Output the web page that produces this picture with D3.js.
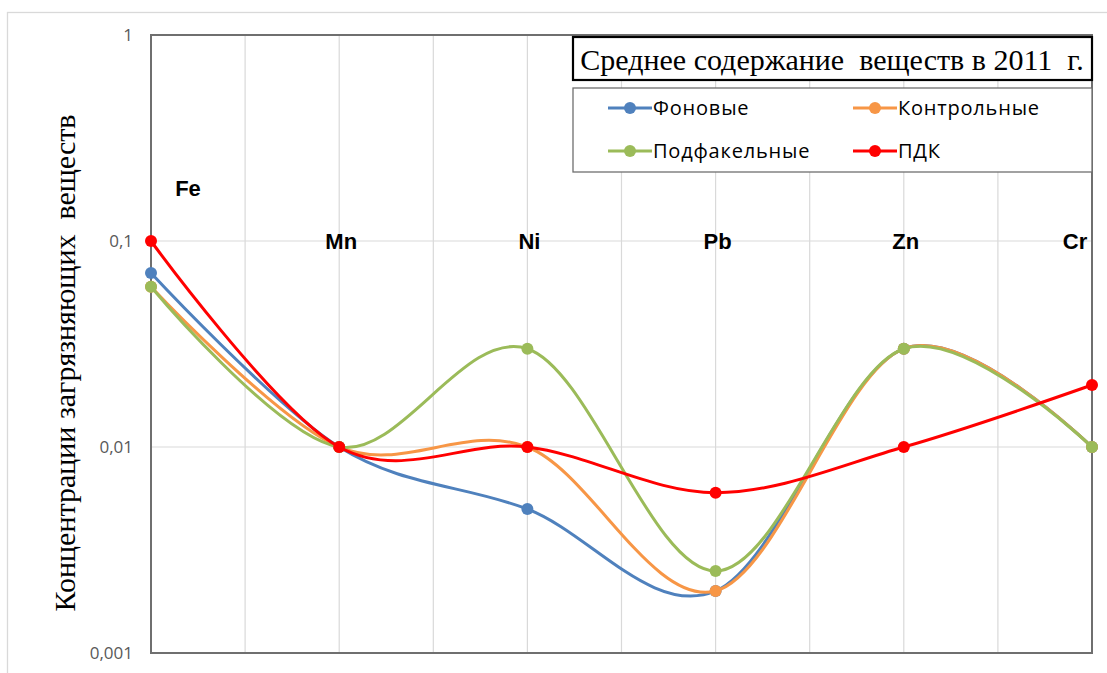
<!DOCTYPE html>
<html>
<head>
<meta charset="utf-8">
<script src="https://cdn.jsdelivr.net/npm/d3@7"></script>
<style>
  body { margin: 0; background: #fff; }
  svg { display: block; }
  text { white-space: pre; }
</style>
</head>
<body>
<svg id="chart" width="1107" height="673"></svg>
<script>
// Elements on the x axis
const categories = ["Fe", "Mn", "Ni", "Pb", "Zn", "Cr"];

// Mean concentrations by site type
const seriesNames = ["Фоновые", "Контрольные", "Подфакельные", "ПДК"];
const fonovye      = [0.07, 0.01, 0.005, 0.002, 0.03, 0.01];
const kontrolnye   = [0.06, 0.01, 0.01,  0.002, 0.03, 0.01];
const podfakelnye  = [0.06, 0.01, 0.03,  0.0025, 0.03, 0.01];
const pdk          = [0.1,  0.01, 0.01,  0.006, 0.01, 0.02];
const seriesValues = [fonovye, kontrolnye, podfakelnye, pdk];
const seriesColors = ["#4F81BD", "#F79646", "#9BBB59", "#FF0000"];

// Log axis ticks
const yTicks = [0.001, 0.01, 0.1, 1];
const yTickLabels = ["0,001", "0,01", "0,1", "1"];

const titleText = "Среднее содержание  веществ в 2011  г.";
const yTitleText = "Концентрации загрязняющих  веществ";

const svg = d3.select("#chart");
const W = 1107, H = 673;
const plot = { left: 151, top: 35, right: 1092, bottom: 653 };

svg.append("rect").attr("width", W).attr("height", H).attr("fill", "#fff");
// outer chart frame
svg.append("rect")
  .attr("x", 7.5).attr("y", 12.5).attr("width", W).attr("height", H)
  .attr("fill", "none").attr("stroke", "#d9d9d9").attr("stroke-width", 1.3);

const x = d3.scalePoint().domain(categories).range([plot.left, plot.right]);
const y = d3.scaleLog().domain([0.001, 1]).range([plot.bottom, plot.top]);

// vertical gridlines at categories and between them
const step = x.step();
const vLines = [];
categories.forEach((c, i) => {
  vLines.push(x(c));
  if (i < categories.length - 1) vLines.push(x(c) + step / 2);
});
svg.append("g").selectAll("line").data(vLines).join("line")
  .attr("x1", d => d).attr("x2", d => d)
  .attr("y1", plot.top).attr("y2", plot.bottom)
  .attr("stroke", "#d9d9d9").attr("stroke-width", 1.2);

svg.append("g").selectAll("line").data(yTicks).join("line")
  .attr("x1", plot.left).attr("x2", plot.right)
  .attr("y1", d => y(d)).attr("y2", d => y(d))
  .attr("stroke", "#d9d9d9").attr("stroke-width", 1.2);

// plot frame
svg.append("rect")
  .attr("x", plot.left).attr("y", plot.top)
  .attr("width", plot.right - plot.left).attr("height", plot.bottom - plot.top)
  .attr("fill", "none").attr("stroke", "#6f6f6f").attr("stroke-width", 2);

// y axis tick labels
const yAxis = d3.axisLeft(y).tickValues(yTicks)
  .tickFormat((d, i) => yTickLabels[i]).tickSize(0).tickPadding(18);
const yg = svg.append("g").attr("transform", `translate(${plot.left},0)`).call(yAxis);
yg.select(".domain").remove();
yg.selectAll("text")
  .attr("font-family", "'Open Sans', 'Liberation Sans', sans-serif")
  .attr("font-size", 17).attr("fill", "#595959");

// y axis title
svg.append("text")
  .attr("transform", `translate(75,${(plot.top + plot.bottom) / 2 + 19}) rotate(-90)`)
  .attr("text-anchor", "middle")
  .attr("font-family", "'Liberation Serif', 'DejaVu Serif', serif")
  .attr("font-size", 30).attr("fill", "#000")
  .text(yTitleText);

// series curves
const line = d3.line()
  .x((d, i) => x(categories[i]))
  .y(d => y(d))
  .curve(d3.curveCatmullRom.alpha(0));

seriesValues.forEach((vals, s) => {
  const g = svg.append("g");
  g.append("path").datum(vals)
    .attr("d", line).attr("fill", "none")
    .attr("stroke", seriesColors[s]).attr("stroke-width", 3)
    .attr("stroke-linejoin", "round");
  g.selectAll("circle").data(vals).join("circle")
    .attr("cx", (d, i) => x(categories[i])).attr("cy", d => y(d))
    .attr("r", 6).attr("fill", seriesColors[s]);
});

// element labels
const labelOffsets = { Fe: [37, -53], Cr: [-17, 0] };
svg.append("g").selectAll("text").data(categories).join("text")
  .attr("x", d => x(d) + (labelOffsets[d] ? labelOffsets[d][0] : 2))
  .attr("y", d => y(0.1) + 8 + (labelOffsets[d] ? labelOffsets[d][1] : 0))
  .attr("text-anchor", "middle")
  .attr("font-family", "'Liberation Sans', Arial, sans-serif")
  .attr("font-weight", "bold").attr("font-size", 22).attr("fill", "#000")
  .text(d => d);

// title box
svg.append("rect")
  .attr("x", 573).attr("y", 37).attr("width", 519).attr("height", 43)
  .attr("fill", "#fff").attr("stroke", "#000").attr("stroke-width", 2.2);
svg.append("text")
  .attr("x", 832).attr("y", 70).attr("text-anchor", "middle")
  .attr("font-family", "'Liberation Serif', 'DejaVu Serif', serif")
  .attr("font-size", 30).attr("fill", "#000")
  .text(titleText);

// legend
svg.append("rect")
  .attr("x", 573).attr("y", 88).attr("width", 519).attr("height", 84)
  .attr("fill", "#fff").attr("stroke", "#6f6f6f").attr("stroke-width", 1.3);
const legendPos = [[608, 108], [853, 108], [608, 151], [853, 151]];
seriesNames.forEach((name, s) => {
  const [lx, ly] = legendPos[s];
  const g = svg.append("g");
  g.append("line").attr("x1", lx).attr("x2", lx + 44).attr("y1", ly).attr("y2", ly)
    .attr("stroke", seriesColors[s]).attr("stroke-width", 3);
  g.append("circle").attr("cx", lx + 22).attr("cy", ly).attr("r", 6).attr("fill", seriesColors[s]);
  g.append("text").attr("x", lx + 45).attr("y", ly + 7)
    .attr("font-family", "'Open Sans', 'Liberation Sans', sans-serif")
    .attr("font-size", 20).attr("letter-spacing", 0.8).attr("fill", "#000")
    .text(name);
});
</script>
</body>
</html>
